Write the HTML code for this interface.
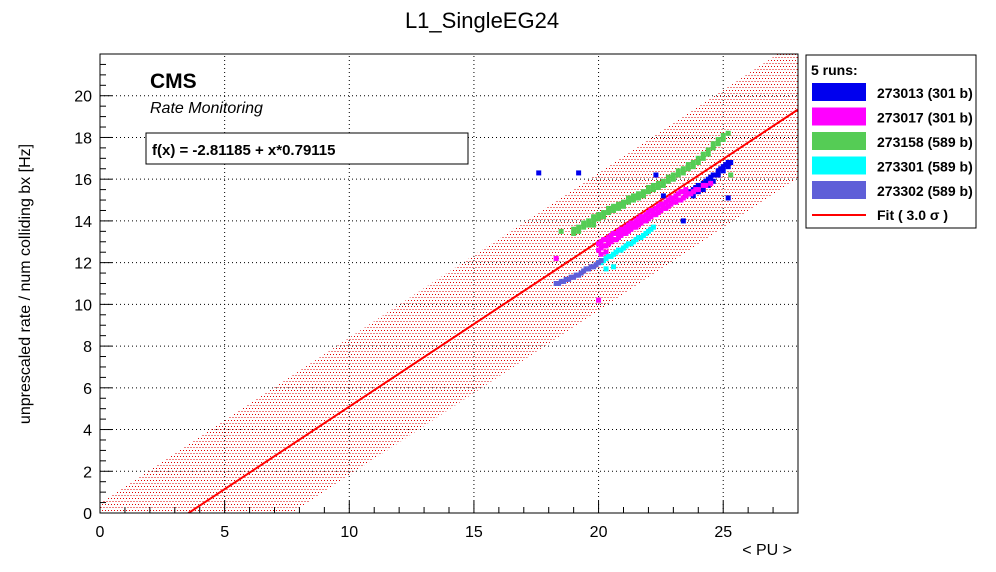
<!DOCTYPE html>
<html><head><meta charset="utf-8"><style>
html,body{margin:0;padding:0;background:#fff;overflow:hidden;width:996px;height:572px;}
svg{display:block;}
svg text{font-family:"Liberation Sans",sans-serif;}
</style></head><body>
<svg id="c" width="996" height="572">
<defs><pattern id="dots" width="6" height="6" patternUnits="userSpaceOnUse"><rect x="0" y="0" width="1" height="1" fill="#e00000"/><rect x="3" y="0" width="1" height="1" fill="#e00000"/><rect x="1.5" y="3" width="1" height="1" fill="#e00000"/><rect x="4.5" y="3" width="1" height="1" fill="#e00000"/></pattern>
<clipPath id="clip"><rect x="100" y="54" width="698" height="459"/></clipPath></defs>
<text x="482" y="28" font-size="22" text-anchor="middle">L1_SingleEG24</text>
<g id="grid"></g><g id="band" clip-path="url(#clip)"></g><g id="pts" clip-path="url(#clip)"></g><g id="axes"></g>
<text x="150" y="88" font-size="21" font-weight="bold">CMS</text>
<text x="150" y="113" font-size="16" font-style="italic">Rate Monitoring</text>
<rect x="146" y="133" width="322" height="31" fill="#fff" stroke="#000"/>
<text x="152" y="155" font-size="15" font-weight="bold">f(x) = -2.81185 + x*0.79115</text>
<text x="30" y="284" font-size="16" text-anchor="middle" transform="rotate(-90 30 284)">unprescaled rate / num colliding bx [Hz]</text>
<text x="792" y="555" font-size="16" text-anchor="end">&lt; PU &gt;</text>
<g id="legend">
<rect x="806" y="55" width="170" height="173" fill="#fff" stroke="#000"/>
<text x="811" y="75" font-size="14" font-weight="bold">5 runs:</text>
</g>
</svg>
<script>
const xTicks=[0,5,10,15,20,25];
const yTicks=[0,2,4,6,8,10,12,14,16,18,20];
const fitA=-2.81185, fitB=0.79115, sigmaW=3.3;
const runNames=["273013 (301 b)","273017 (301 b)","273158 (589 b)","273301 (589 b)","273302 (589 b)"];
const runColors=["#0000ee","#ff00ff","#55cc55","#00ffff","#5f5fd8"];
const run273013X=[23.5,23.6,23.7,23.8,23.9,24.0,24.1,24.2,24.3,24.4,24.5,24.6,24.7,24.8,24.9,25.0,25.1,25.2,25.3,23.8,24.0,24.2,24.4,24.6,24.8,25.0,25.2,17.6,19.2,22.3,22.6,23.4,25.2];
const run273013Y=[15.2,15.3,15.4,15.5,15.6,15.7,15.7,15.8,15.9,16.0,16.1,16.2,16.2,16.4,16.5,16.6,16.7,16.8,16.8,15.2,15.4,15.5,15.7,15.9,16.2,16.4,16.6,16.3,16.3,16.2,15.2,14.0,15.1];
const run273017X=[20.0,20.1,20.2,20.3,20.4,20.5,20.6,20.7,20.8,20.9,21.0,21.1,21.2,21.3,21.4,21.5,21.6,21.7,21.8,21.9,22.0,22.1,22.2,22.3,22.4,22.5,22.6,22.7,22.8,22.9,23.0,23.1,23.2,23.3,23.4,23.5,23.6,23.7,23.8,23.9,24.0,24.2,24.3,24.5,20.1,20.3,18.3,20.0,21.7];
const run273017Y=[12.6,12.7,12.8,12.8,12.9,13.0,13.1,13.1,13.2,13.3,13.4,13.4,13.5,13.6,13.7,13.7,13.8,13.9,14.0,14.0,14.1,14.2,14.3,14.3,14.4,14.5,14.6,14.6,14.7,14.8,14.9,14.9,15.0,15.0,15.1,15.2,15.3,15.3,15.4,15.5,15.5,15.7,15.7,15.8,12.4,12.5,12.2,10.2,14.0];
const run273017Y2=[12.9,13.0,13.1,13.1,13.2,13.3,13.4,13.4,13.5,13.6,13.6,13.7,13.8,13.9,13.9,14.0,14.1,14.2,14.2,14.3,14.4,14.5,14.5,14.6,14.7,14.8,14.8,14.9,15.0,15.1,15.1,15.2,15.3,15.4,15.4,15.5];
const run273158X=[19.0,19.2,19.4,19.6,19.8,20.0,20.2,20.4,20.6,20.8,21.0,21.2,21.4,21.6,21.8,22.0,22.2,22.4,22.6,22.8,23.0,23.2,23.4,23.6,23.8,24.0,24.2,24.4,24.6,24.8,25.0,25.2,18.5,19.8,25.3];
const run273158Y=[13.4,13.5,13.7,13.8,14.0,14.1,14.2,14.4,14.5,14.6,14.7,14.9,15.0,15.1,15.2,15.4,15.5,15.6,15.7,15.9,16.0,16.2,16.3,16.5,16.6,16.8,17.0,17.2,17.5,17.7,17.9,18.2,13.5,13.8,16.2];
const run273158Y2=[13.6,13.7,13.9,14.0,14.2,14.3,14.4,14.6,14.7,14.8,14.9,15.1,15.2,15.3,15.4,15.6,15.7,15.8,15.9,16.1,16.2,16.4,16.5,16.7,16.8,17.0,17.2,17.4,17.7,17.9,18.1];
const run273301X=[20.0,20.1,20.2,20.3,20.4,20.5,20.6,20.7,20.8,20.9,21.0,21.1,21.2,21.3,21.4,21.5,21.6,21.7,21.8,21.9,22.0,22.1,22.2,20.3,20.6];
const run273301Y=[12.0,12.0,12.1,12.2,12.3,12.3,12.4,12.5,12.6,12.6,12.7,12.8,12.9,12.9,13.0,13.1,13.2,13.2,13.3,13.4,13.5,13.6,13.7,11.7,11.8];
const run273302X=[18.3,18.4,18.5,18.6,18.7,18.8,18.9,19.0,19.1,19.2,19.3,19.4,19.5,19.6,19.7,19.8,19.9,20.0,20.1];
const run273302Y=[11.0,11.0,11.1,11.1,11.2,11.2,11.3,11.3,11.4,11.4,11.5,11.6,11.7,11.7,11.8,11.8,11.9,12.0,12.1];
const runsX=[run273013X,run273017X,run273158X,run273301X,run273302X];
const runsY=[run273013Y,run273017Y,run273158Y,run273301Y,run273302Y];
const X0=100,X1=798,XMAX=28,Y0=513,Y1=54,YMAX=22;
const sx=v=>X0+v*(X1-X0)/XMAX, sy=v=>Y0-v*(Y0-Y1)/YMAX;
const NS="http://www.w3.org/2000/svg";
function mk(t,a,p){const e=document.createElementNS(NS,t);for(const k in a)e.setAttribute(k,a[k]);p.appendChild(e);return e;}
const grid=document.getElementById('grid'),axes=document.getElementById('axes');
xTicks.forEach(t=>{if(t>0){const l=mk('line',{x1:sx(t),x2:sx(t),y1:Y0,y2:Y1,stroke:'#000','stroke-dasharray':'1,3'},grid);

}});
yTicks.forEach(t=>{if(t>0){const l=mk('line',{x1:X0,x2:X1,y1:sy(t),y2:sy(t),stroke:'#000','stroke-dasharray':'1,3'},grid);

}});
const band=document.getElementById('band');
const bp=mk('polygon',{points:[[0,1],[XMAX,1],[XMAX,-1],[0,-1]].map(p=>sx(p[0])+','+sy(fitA+fitB*p[0]+p[1]*sigmaW)).join(' '),fill:'url(#dots)'},band);


const fl=mk('line',{x1:sx(0),y1:sy(fitA),x2:sx(XMAX),y2:sy(fitA+fitB*XMAX),stroke:'#ff0000','stroke-width':2},band);


const pts=document.getElementById('pts');
function dot(x,y,c,r){const p=mk('rect',{x:sx(x)-2.5,y:sy(y)-2.5,width:5,height:5,fill:c},pts);

}
runsX.forEach((xs,r)=>xs.forEach((x,i)=>dot(x,runsY[r][i],runColors[r],r)));
run273017Y2.forEach((y,i)=>dot(run273017X[i],y,runColors[1],1));
run273158Y2.forEach((y,i)=>dot(run273158X[i],y,runColors[2],2));
mk('rect',{x:X0,y:Y1,width:X1-X0,height:Y0-Y1,fill:'none',stroke:'#000'},axes);
for(let v=0;v<=XMAX;v++){mk('line',{x1:sx(v),x2:sx(v),y1:Y0,y2:Y0-(v%5==0?12:6),stroke:'#000'},axes);}
for(let v=0;v<=YMAX;v+=0.5){mk('line',{x1:X0,x2:X0+(v%2==0?12:6),y1:sy(v),y2:sy(v),stroke:'#000'},axes);}
xTicks.forEach(t=>{const e=mk('text',{x:sx(t),y:537,'font-size':16,'text-anchor':'middle'},axes);e.textContent=t;

});
yTicks.forEach(t=>{const e=mk('text',{x:92,y:sy(t)+6,'font-size':16,'text-anchor':'end'},axes);e.textContent=t;

});
const lg=document.getElementById('legend');
runNames.forEach((n,i)=>{const y=83+i*24.5;
const r=mk('rect',{x:812,y:y,width:54,height:18,fill:runColors[i]},lg);


const t=mk('text',{x:877,y:y+15,'font-size':14,'font-weight':'bold'},lg);t.textContent=n;

});
mk('line',{x1:812,x2:866,y1:215,y2:215,stroke:'#ff0000','stroke-width':2},lg);
const ft=mk('text',{x:877,y:220,'font-size':14,'font-weight':'bold'},lg);ft.textContent='Fit ( 3.0 σ )';


</script>
</body></html>
